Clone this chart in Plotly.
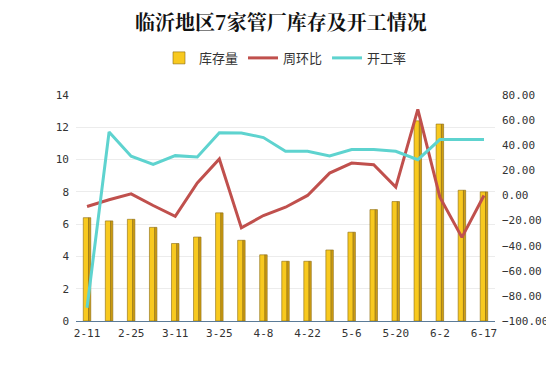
import plotly.graph_objects as go

dates = ["2-11", "2-18", "2-25", "3-4", "3-11", "3-18", "3-25", "4-1", "4-8", "4-15",
         "4-22", "4-29", "5-6", "5-13", "5-20", "5-27", "6-2", "6-10", "6-17"]
inventory = [6.4, 6.2, 6.3, 5.8, 4.8, 5.2, 6.7, 5.0, 4.1, 3.7,
             3.7, 4.4, 5.5, 6.9, 7.4, 12.4, 12.2, 8.1, 8.0]
wow = [-8.8, -3.4, 1.3, -8.0, -16.6, 10.0, 29.0, -25.8, -16.0, -9.4,
       0.0, 17.8, 25.8, 24.5, 6.6, 68.5, -1.4, -33.4, 0.0]
rate = [-89.4, 50.5, 31.2, 24.8, 31.7, 30.7, 49.9, 49.8, 46.1, 35.2,
        35.2, 31.5, 36.5, 36.5, 35.2, 28.5, 44.5, 44.5, 44.5]
shown_ticks = dates[::2]

FONT = "DejaVu Sans Mono, Liberation Mono, monospace"
CJK = "Noto Sans CJK SC, sans-serif"

fig = go.Figure()
# front face of the bars
fig.add_trace(go.Bar(
    x=dates, y=inventory, name="库存量", width=0.24, offset=-0.17,
    marker=dict(color="#F8C91F", line=dict(color="#8a6a10", width=0.6)),
    yaxis="y", legendrank=1,
))
# darker side face for a 3D look
fig.add_trace(go.Bar(
    x=dates, y=inventory, name="库存量", width=0.1, offset=0.07,
    marker=dict(color="#CF9E12", line=dict(color="#8a6a10", width=0.6)),
    yaxis="y", showlegend=False, hoverinfo="skip",
))
fig.add_trace(go.Scatter(
    x=dates, y=wow, name="周环比", mode="lines",
    line=dict(color="#C0504D", width=3), yaxis="y2", legendrank=2,
))
fig.add_trace(go.Scatter(
    x=dates, y=rate, name="开工率", mode="lines",
    line=dict(color="#5ED3CF", width=3), yaxis="y2", legendrank=3,
))

fig.update_layout(
    width=546, height=357,
    margin=dict(l=68, r=59, t=87, b=44, autoexpand=False),
    paper_bgcolor="white", plot_bgcolor="white",
    barmode="overlay",
    title=dict(text="<b>临沂地区7家管厂库存及开工情况</b>", x=0.5, xanchor="center",
               y=0.957, yanchor="middle",
               font=dict(family="Noto Serif CJK SC, Noto Sans CJK SC, serif", size=20, color="#111")),
    legend=dict(orientation="h", x=0.5, xanchor="center", y=1.164, yanchor="middle",
                font=dict(family=CJK, size=13, color="#333"),
                itemwidth=30, tracegroupgap=0, traceorder="normal"),
    xaxis=dict(
        type="category", range=[-0.5, 18.5], automargin=False,
        tickmode="array", tickvals=shown_ticks, ticktext=shown_ticks,
        showgrid=False, showline=True, linecolor="#5b7b98", linewidth=1.2,
        ticks="", ticklabelstandoff=2,
        tickfont=dict(family=FONT, size=11, color="#333"),
    ),
    yaxis=dict(
        range=[0, 14], dtick=2, showgrid=True, gridcolor="#ececec", gridwidth=1,
        zeroline=False, ticks="", automargin=False, ticklabelstandoff=6,
        tickfont=dict(family=FONT, size=11, color="#333"),
    ),
    yaxis2=dict(
        range=[-100, 80], dtick=20, overlaying="y", side="right", showgrid=False,
        zeroline=False, tickformat=".2f", ticks="", automargin=False,
        ticklabelstandoff=6,
        tickfont=dict(family=FONT, size=11, color="#333"),
    ),
)

fig.write_html("out.html")
